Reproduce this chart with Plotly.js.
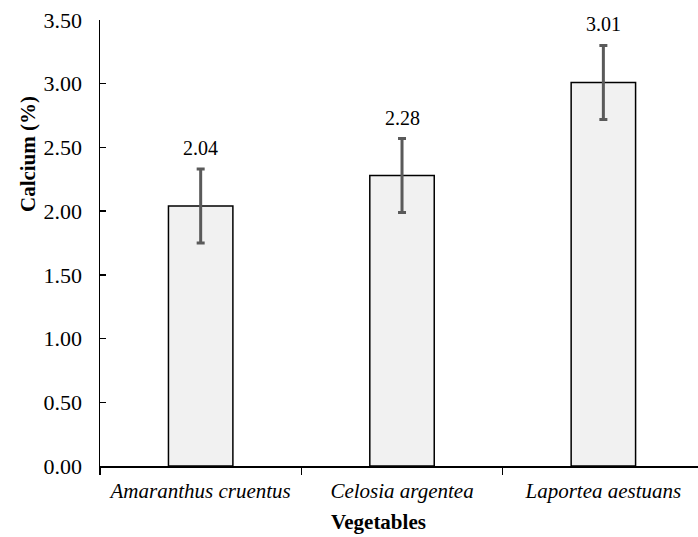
<!DOCTYPE html>
<html>
<head>
<meta charset="utf-8">
<script src="https://cdn.plot.ly/plotly-3.0.1.min.js"></script>
<style>html,body{margin:0;padding:0;background:#fff;}#chart{width:698px;height:537px;}</style>
</head>
<body>
<div id="chart"></div>
<script>
const categories = ["Amaranthus cruentus", "Celosia argentea", "Laportea aestuans"];
const calcium = [2.04, 2.28, 3.01];
const errors = [0.29, 0.29, 0.29];
const valueLabels = ["2.04", "2.28", "3.01"];
const yTickVals = [0, 0.5, 1, 1.5, 2, 2.5, 3, 3.5];
const yTickText = ["0.00", "0.50", "1.00", "1.50", "2.00", "2.50", "3.00", "3.50"];

const serif = "Liberation Serif, Times New Roman, serif";

const trace = {
  type: 'bar',
  x: categories,
  y: calcium,
  marker: {color: '#f1f1f1', line: {color: '#000', width: 1.5}},
  error_y: {type: 'data', array: errors, visible: true, color: '#5a5a5a', thickness: 3, width: 4},
  hoverinfo: 'none'
};

const labelAnn = categories.map((c, i) => ({
  x: c, y: calcium[i] + errors[i], xref: 'x', yref: 'y',
  text: valueLabels[i], showarrow: false, yanchor: 'middle', yshift: 21,
  font: {family: serif, size: 20, color: '#000'}
}));

const layout = {
  width: 698, height: 537,
  margin: {l: 100, r: 0, t: 20, b: 71},
  paper_bgcolor: '#fff', plot_bgcolor: '#fff',
  showlegend: false,
  bargap: 0.68,
  font: {family: serif, size: 20, color: '#000'},
  xaxis: {
    type: 'category', range: [-0.5, 2.47],
    tickson: 'boundaries', ticks: 'outside', ticklen: 7, tickcolor: '#000', tickwidth: 1.5,
    showline: true, linecolor: '#000', linewidth: 1.5,
    showgrid: false, zeroline: false, ticklabelstandoff: 5,
    tickfont: {family: serif, size: 21, color: '#000', style: 'italic'}
  },
  yaxis: {
    range: [0, 3.5], tickvals: yTickVals, ticktext: yTickText,
    ticks: 'inside', ticklen: 6, tickcolor: '#000', tickwidth: 1.5,
    showline: true, linecolor: '#000', linewidth: 1.5,
    showgrid: false, zeroline: false, ticklabelstandoff: 12,
    tickfont: {family: serif, size: 22, color: '#000'}
  },
  annotations: labelAnn.concat([
    {text: '<b>Calcium (%)</b>', xref: 'paper', yref: 'paper', x: -0.12, y: 0.70,
     textangle: -90, showarrow: false, xanchor: 'center', yanchor: 'middle',
     font: {family: serif, size: 21, color: '#000'}},
    {text: '<b>Vegetables</b>', xref: 'paper', yref: 'paper', x: 0.465, y: -0.1256,
     showarrow: false, xanchor: 'center', yanchor: 'middle',
     font: {family: serif, size: 21, color: '#000'}}
  ])
};

Plotly.newPlot('chart', [trace], layout, {displayModeBar: false, staticPlot: true});
</script>
</body>
</html>
